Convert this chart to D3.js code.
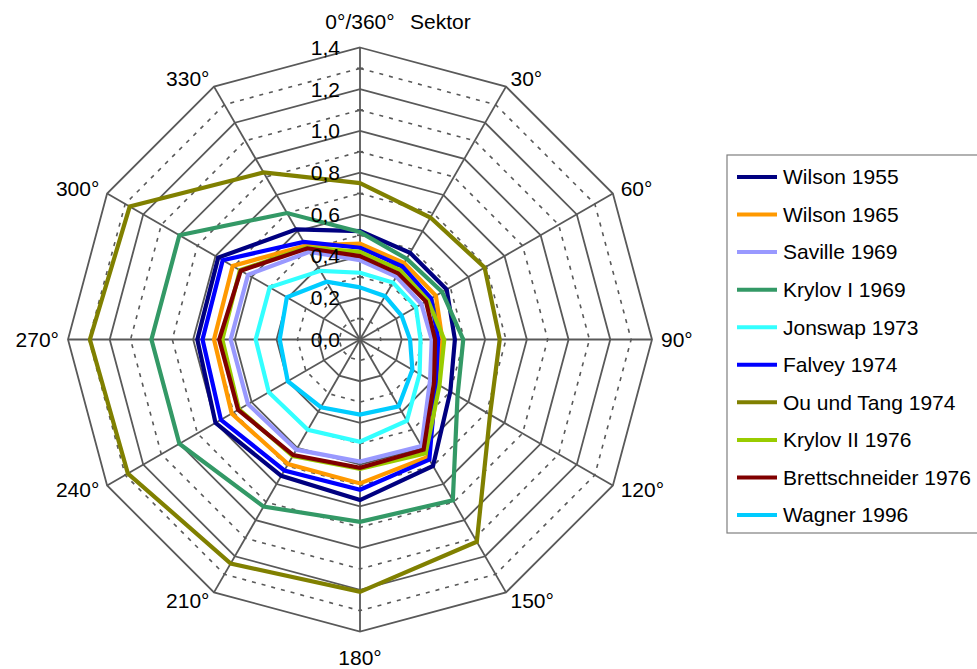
<!DOCTYPE html>
<html>
<head>
<meta charset="utf-8">
<script src="https://cdn.jsdelivr.net/npm/d3@7"></script>
<style>
  html, body { margin: 0; padding: 0; background: #ffffff; }
  svg { display: block; font-family: "Liberation Sans", Arial, sans-serif; }
</style>
</head>
<body>
<svg id="chart" width="977" height="669"></svg>
<script>
// ---- data ----
const sectors = [0, 30, 60, 90, 120, 150, 180, 210, 240, 270, 300, 330];
const sectorLabels = ["0°/360°", "30°", "60°", "90°", "120°", "150°", "180°", "210°", "240°", "270°", "300°", "330°"];
const radialTicks = [0, 0.2, 0.4, 0.6, 0.8, 1.0, 1.2, 1.4];
const radialTickLabels = ["0,0", "0,2", "0,4", "0,6", "0,8", "1,0", "1,2", "1,4"];
const minorLevels = [0.1, 0.3, 0.5, 0.7, 0.9, 1.1, 1.3];
const axisTitle = "Sektor";

const seriesNames = ["Wilson 1955", "Wilson 1965", "Saville 1969", "Krylov I 1969", "Jonswap 1973",
  "Falvey 1974", "Ou und Tang 1974", "Krylov II 1976", "Brettschneider 1976", "Wagner 1996"];
const seriesColors = ["#000080", "#ff9900", "#9999ff", "#339966", "#33ffff",
  "#0000ff", "#808000", "#99cc00", "#800000", "#00ccff"];

const wilson1955      = [0.52, 0.48, 0.48, 0.455, 0.50, 0.70, 0.77, 0.755, 0.80, 0.78, 0.785, 0.61];
const wilson1965      = [0.46, 0.423, 0.42, 0.395, 0.43, 0.65, 0.69, 0.69, 0.71, 0.70, 0.705, 0.52];
const saville1969     = [0.38, 0.348, 0.34, 0.344, 0.388, 0.59, 0.585, 0.61, 0.62, 0.62, 0.62, 0.485];
const krylovI1969     = [0.515, 0.447, 0.455, 0.495, 0.54, 0.89, 0.874, 0.925, 1.0, 1.0, 1.0, 0.70];
const jonswap1973     = [0.32, 0.315, 0.31, 0.29, 0.33, 0.45, 0.49, 0.50, 0.505, 0.50, 0.50, 0.38];
const falvey1974      = [0.44, 0.405, 0.393, 0.375, 0.42, 0.665, 0.72, 0.725, 0.77, 0.755, 0.76, 0.54];
const ouUndTang1974   = [0.75, 0.675, 0.69, 0.67, 0.72, 1.12, 1.21, 1.24, 1.285, 1.295, 1.275, 0.925];
const krylovII1976    = [0.42, 0.384, 0.376, 0.404, 0.44, 0.63, 0.62, 0.645, 0.67, 0.66, 0.665, 0.51];
const brettschneider1976 = [0.40, 0.366, 0.365, 0.36, 0.41, 0.61, 0.615, 0.64, 0.675, 0.675, 0.66, 0.505];
const wagner1996      = [0.25, 0.24, 0.23, 0.24, 0.29, 0.37, 0.36, 0.375, 0.40, 0.385, 0.405, 0.32];

const seriesValues = [wilson1955, wilson1965, saville1969, krylovI1969, jonswap1973,
  falvey1974, ouUndTang1974, krylovII1976, brettschneider1976, wagner1996];

// ---- layout ----
const svg = d3.select("#chart");
const cx = 360, cy = 339.5, R = 292;
const gridColor = "#595959";
const fs = 21;
const r = d3.scaleLinear().domain([0, 1.4]).range([0, R]);
const ang = d3.scaleLinear().domain([0, 360]).range([0, 2 * Math.PI]);

const g = svg.append("g").attr("transform", `translate(${cx},${cy})`);

const ring = d3.lineRadial()
  .angle(d => ang(d.a))
  .radius(d => r(d.v))
  .curve(d3.curveLinearClosed);

// minor (dashed) rings
g.append("g").selectAll("path").data(minorLevels).join("path")
  .attr("d", lv => ring(sectors.map(a => ({ a, v: lv }))))
  .attr("fill", "none").attr("stroke", gridColor)
  .attr("stroke-width", 1.6).attr("stroke-dasharray", "4,6");

// major rings
g.append("g").selectAll("path").data(radialTicks.filter(t => t > 0)).join("path")
  .attr("d", lv => ring(sectors.map(a => ({ a, v: lv }))))
  .attr("fill", "none").attr("stroke", gridColor).attr("stroke-width", 1.8);

// spokes
g.append("g").selectAll("line").data(sectors).join("line")
  .attr("x1", 0).attr("y1", 0)
  .attr("x2", a => r(1.4) * Math.sin(ang(a)))
  .attr("y2", a => -r(1.4) * Math.cos(ang(a)))
  .attr("stroke", gridColor).attr("stroke-width", 1.8);

// minor tick marks on the value axis
g.append("g").selectAll("line").data(minorLevels).join("line")
  .attr("x1", -3).attr("x2", 3)
  .attr("y1", v => -r(v)).attr("y2", v => -r(v))
  .attr("stroke", gridColor).attr("stroke-width", 1.8);

// series
seriesValues.forEach((vals, i) => {
  g.append("path")
    .datum(sectors.map((a, k) => ({ a, v: vals[k] })))
    .attr("d", ring)
    .attr("fill", "none")
    .attr("stroke", seriesColors[i])
    .attr("stroke-width", 4.2)
    .attr("stroke-linejoin", "miter");
});

// radial tick labels
g.append("g").selectAll("text").data(radialTicks).join("text")
  .attr("x", -20)
  .attr("y", v => -r(v))
  .attr("dy", "0.35em")
  .attr("text-anchor", "end")
  .attr("font-size", fs)
  .attr("fill", "#000")
  .text((v, i) => radialTickLabels[i]);

// sector labels
g.append("g").selectAll("text").data(sectors).join("text")
  .each(function (a, i) {
    const s = Math.sin(ang(a)), c = Math.cos(ang(a));
    const isVert = Math.abs(s) < 0.1;
    const rr = R + (isVert ? 26 : 9);
    const t = d3.select(this);
    t.attr("x", rr * s).attr("y", -rr * c).attr("dy", "0.35em")
      .attr("text-anchor", isVert ? "middle" : (s > 0 ? "start" : "end"))
      .attr("font-size", fs).attr("fill", "#000")
      .text(sectorLabels[i]);
  });

svg.append("text")
  .attr("x", 410).attr("y", 29)
  .attr("font-size", fs).attr("fill", "#000")
  .text(axisTitle);

// legend
const leg = svg.append("g").attr("transform", "translate(727,155)");
leg.append("rect")
  .attr("x", 0).attr("y", 0).attr("width", 275).attr("height", 378)
  .attr("fill", "#fff").attr("stroke", "#7f7f7f").attr("stroke-width", 1.2);
const ly = d3.scalePoint().domain(seriesNames).range([22, 360]);
const items = leg.selectAll("g.item").data(seriesNames).join("g")
  .attr("class", "item")
  .attr("transform", d => `translate(0,${ly(d)})`);
items.append("line")
  .attr("x1", 10).attr("x2", 50).attr("y1", 0).attr("y2", 0)
  .attr("stroke", (d, i) => seriesColors[i]).attr("stroke-width", 4);
items.append("text")
  .attr("x", 56).attr("y", 0).attr("dy", "0.35em")
  .attr("font-size", fs).attr("fill", "#000")
  .text(d => d);
</script>
</body>
</html>
